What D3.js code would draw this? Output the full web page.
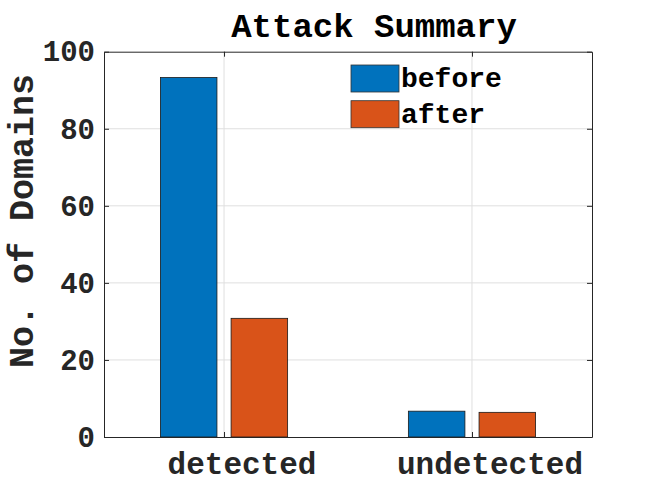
<!DOCTYPE html>
<html><head><meta charset="utf-8">
<script src="https://cdn.jsdelivr.net/npm/d3@7"></script>
<style>html,body{margin:0;padding:0;background:#fff;}</style>
</head><body>
<script>
const categories = ["detected", "undetected"];
const seriesNames = ["before", "after"];
const beforeValues = [93.3, 6.7];
const afterValues = [30.8, 6.4];
const yTicks = [0, 20, 40, 60, 80, 100];
const colors = ["#0072BD", "#D95319"];

const W = 654, H = 491;
const svg = d3.select("body").append("svg").attr("width", W).attr("height", H)
  .style("font-family", "'Liberation Mono', 'Courier New', monospace").style("font-weight", "bold");

const pL = 104, pR = 592, pT = 51.7, pB = 437;
const x = d3.scaleLinear().domain([0.516, 2.484]).range([pL, pR]);
const y = d3.scaleLinear().domain([0, 100]).range([pB, pT]);
const axisColor = "#262626";

// grid
svg.append("g").selectAll("line").data(yTicks.slice(1, -1)).join("line")
  .attr("x1", pL).attr("x2", pR).attr("y1", d => y(d)).attr("y2", d => y(d))
  .attr("stroke", "#dfdfdf").attr("stroke-width", 1);
svg.append("g").selectAll("line").data(categories).join("line")
  .attr("x1", (d, i) => x(i + 1)).attr("x2", (d, i) => x(i + 1)).attr("y1", pT).attr("y2", pB)
  .attr("stroke", "#dfdfdf").attr("stroke-width", 1);

// bars
const series = [beforeValues, afterValues];
const offsets = [-0.1425, 0.1425];
const bw = 0.228;
series.forEach((vals, s) => {
  svg.append("g").selectAll("rect").data(vals).join("rect")
    .attr("x", (d, i) => x(i + 1 + offsets[s] - bw / 2))
    .attr("width", x(bw) - x(0))
    .attr("y", d => y(d))
    .attr("height", d => y(0) - y(d))
    .attr("fill", colors[s]).attr("stroke", "#1a1a1a").attr("stroke-width", 0.8);
});

// axes box
const yAxisL = d3.axisLeft(y).tickValues(yTicks).tickSizeInner(-5).tickSizeOuter(0).tickPadding(9);
const gy = svg.append("g").attr("transform", `translate(${pL},0)`).call(yAxisL);
gy.select(".domain").attr("stroke", axisColor);
gy.selectAll(".tick line").attr("stroke", axisColor);
gy.selectAll(".tick text").attr("fill", axisColor).style("font-size", "29px")
  .style("font-family", "'Liberation Mono', monospace").style("font-weight", "bold");

const yAxisR = d3.axisRight(y).tickValues(yTicks).tickSizeInner(-5).tickSizeOuter(0).tickFormat("");
const gyr = svg.append("g").attr("transform", `translate(${pR},0)`).call(yAxisR);
gyr.select(".domain").attr("stroke", axisColor);
gyr.selectAll(".tick line").attr("stroke", axisColor);

const xAxisB = d3.axisBottom(x).tickValues([1, 2]).tickSizeInner(-5).tickSizeOuter(0).tickFormat("");
const gx = svg.append("g").attr("transform", `translate(0,${pB})`).call(xAxisB);
gx.select(".domain").attr("stroke", axisColor);
gx.selectAll(".tick line").attr("stroke", axisColor);
const xAxisT = d3.axisTop(x).tickValues([1, 2]).tickSizeInner(-5).tickSizeOuter(0).tickFormat("");
const gxt = svg.append("g").attr("transform", `translate(0,${pT})`).call(xAxisT);
gxt.select(".domain").attr("stroke", axisColor);
gxt.selectAll(".tick line").attr("stroke", axisColor);

// x category labels
svg.append("g").selectAll("text").data(categories).join("text")
  .attr("x", (d, i) => x(i + 1) + 18).attr("y", 474)
  .attr("text-anchor", "middle").attr("fill", axisColor).style("font-size", "31px")
  .text(d => d);

// title
svg.append("text").attr("x", 374).attr("y", 36.5).attr("text-anchor", "middle")
  .attr("fill", "#000").style("font-size", "34px").text("Attack Summary");

// y label
svg.append("text").attr("transform", "translate(33,221) rotate(-90)").attr("text-anchor", "middle")
  .attr("fill", axisColor).style("font-size", "35px").text("No. of Domains");

// legend
const legY = [65, 100.7];
const lg = svg.append("g");
seriesNames.forEach((name, i) => {
  lg.append("rect").attr("x", 351).attr("y", legY[i]).attr("width", 48).attr("height", 27)
    .attr("fill", colors[i]).attr("stroke", "#333").attr("stroke-width", 0.8);
  lg.append("text").attr("x", 401).attr("y", legY[i] + 22).attr("fill", "#000")
    .style("font-size", "28px").text(name);
});
</script>
</body></html>
